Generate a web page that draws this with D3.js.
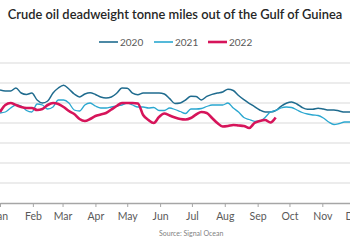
<!DOCTYPE html>
<html>
<head>
<meta charset="utf-8">
<script src="https://cdn.jsdelivr.net/npm/d3@7"></script>
<style>
  body { margin: 0; background: #fff; }
  svg { display: block; }
</style>
</head>
<body>
<div id="chart"></div>
<script>
// day offsets from Jan 1, sampled every 5 days
const days = d3.range(0, 345, 5);

const series2020 = [113, 112, 112, 115, 110, 108.5, 110, 103, 100, 102, 110, 115, 117.7, 114, 109, 106,
  109, 110.3, 108.5, 106, 105, 106, 109.7, 115, 114.8, 109.8, 108.3, 110, 110, 110, 110, 109, 104.4,
  99.5, 100, 103, 106.7, 106.4, 103, 106.6, 108.6, 110, 111, 113.8, 112.5, 107.5, 103.3, 99.7, 96.4,
  93, 91, 91, 92.5, 96.7, 99.7, 101, 99, 95.5, 93.7, 93.8, 94.8, 94, 93, 93, 92, 91, 91, 91, 90];

const series2021 = [90, 91, 95, 98, 97, 92.5, 91, 99, 98, 94, 96, 103, 103, 100, 93, 92, 98, 100, 97,
  95, 95, 96, 97, 98, 100, 98, 96, 96, 95, 95.5, 92.5, 92.5, 95, 93.5, 91.5, 89.5, 94, 94, 94.5, 96.5,
  98, 98, 98, 100, 95, 91, 85.5, 83.5, 81.7, 82, 85.5, 91, 92.5, 95, 96, 95.5, 93, 90.5, 89, 88, 87.5,
  85, 81, 78.5, 79.5, 81, 81, 82, 82];

const series2022 = [91, 98, 100, 98, 96, 95, 95, 93, 94, 98, 100, 99, 96, 92, 89, 84, 82, 84, 87, 88.5,
  90, 93.5, 97, 100, 100, 100, 99.5, 88, 83, 80, 86, 89.5, 87.5, 85.5, 84, 83.5, 85, 88.5, 91, 90, 85,
  80, 76.5, 77, 78, 77.5, 77, 75, 80, 82, 83, 80.5, 85.5];

const seriesNames = ["2020", "2021", "2022"];
const colors = ["#1f6b8e", "#2aa7d0", "#d6145a"];
const widths = [1.5, 1.3, 2.6];
const gridValues = [20, 40, 60, 80, 100, 120, 140];
const source = "Source: Signal Ocean";
const title = "Crude oil deadweight tonne miles out of the Gulf of Guinea";

const W = 350, H = 250;
const font = "Lato, 'Open Sans', sans-serif";

const svg = d3.select("#chart").append("svg")
  .attr("width", W).attr("height", H)
  .style("font-family", font);

const start = new Date(2022, 0, 1);
const x = d3.scaleTime()
  .domain([start, new Date(2023, 0, 1)])
  .range([0, 387]);
const y = d3.scaleLinear().domain([0, 140]).range([203, 63]);

// grid
svg.append("g").selectAll("line")
  .data(gridValues)
  .enter().append("line")
  .attr("x1", 0).attr("x2", W)
  .attr("y1", d => y(d)).attr("y2", d => y(d))
  .attr("stroke", "#d9d9d9").attr("stroke-width", 1.2);

// x axis
const xAxis = d3.axisBottom(x)
  .ticks(d3.timeMonth.every(1))
  .tickFormat(d3.timeFormat("%b"))
  .tickSizeInner(4).tickSizeOuter(0).tickPadding(6);

const gx = svg.append("g")
  .attr("transform", `translate(0,${y(0)})`)
  .call(xAxis);
gx.select(".domain").attr("stroke", "#a6a6a6").attr("stroke-width", 1.3);
gx.selectAll(".tick line").attr("stroke", "#a6a6a6");
gx.selectAll(".tick text")
  .attr("fill", "#595959")
  .style("font-family", font)
  .style("font-size", "10.5px");

// lines
const allSeries = [series2020, series2021, series2022];
const line = d3.line()
  .x((d, i) => x(d3.timeDay.offset(start, days[i])))
  .y(d => y(d))
  .curve(d3.curveMonotoneX);

svg.append("g").selectAll("path")
  .data(allSeries)
  .enter().append("path")
  .attr("d", d => line(d))
  .attr("fill", "none")
  .attr("stroke", (d, i) => colors[i])
  .attr("stroke-width", (d, i) => widths[i])
  .attr("stroke-linejoin", "round");

// title
const t = svg.append("text")
  .attr("x", W / 2).attr("y", 19)
  .attr("text-anchor", "middle")
  .attr("fill", "#262626")
  .style("font-size", "12px")
  .style("font-weight", 600)
  .text(title);
const tw = t.node().getComputedTextLength();
t.style("font-size", (12 * 335 / tw) + "px");

// legend
const legendX = [99, 154, 208];
const legend = svg.append("g").selectAll("g")
  .data(seriesNames)
  .enter().append("g")
  .attr("transform", (d, i) => `translate(${legendX[i]},42)`);
legend.append("line")
  .attr("x1", 0).attr("x2", 19)
  .attr("stroke", (d, i) => colors[i])
  .attr("stroke-width", (d, i) => i === 2 ? 2.6 : 1.6);
legend.append("text")
  .attr("x", 21).attr("dy", "0.35em")
  .attr("fill", "#595959")
  .style("font-size", "10px")
  .text(d => d);

// source
svg.append("text")
  .attr("x", 159).attr("y", 236)
  .attr("fill", "#7f7f7f")
  .style("font-size", "7px")
  .text(source);
</script>
</body>
</html>
